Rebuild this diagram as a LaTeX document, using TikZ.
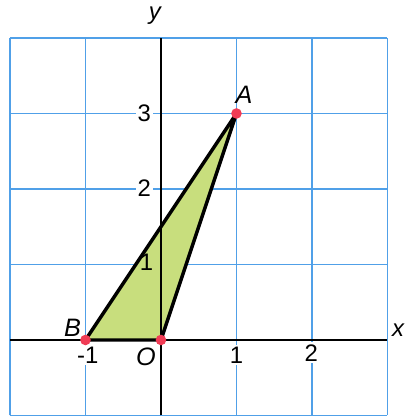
\documentclass[tikz,border=0pt]{standalone}
\usepackage{fontspec}
\setmainfont{Liberation Sans}
\usetikzlibrary{positioning}
\definecolor{GridBlue}{RGB}{80,160,232}
\definecolor{TriFill}{RGB}{200,222,125}
\definecolor{DotRed}{RGB}{240,60,85}
\tikzset{
  every node/.style={font=\fontsize{9}{10}\selectfont},
  gridline/.style={GridBlue, line width=0.7pt},
  axis/.style={black, line width=0.75pt},
  tri/.style={draw=black, fill=TriFill, line width=1.3pt, line join=round},
  dot/.style={circle, fill=DotRed, inner sep=0pt, minimum size=4pt},
  ticklbl/.style={fill=white, inner sep=0.8pt},
  ptlbl/.style={font=\fontsize{9.5}{10}\selectfont\itshape}
}

\begin{document}
\begin{tikzpicture}
\useasboundingbox (-2.132,-1.020) rectangle (3.245,4.503);

% Grid and axes
\draw[gridline] (-2,-1) grid (3,4);
\draw[axis] (-2,0) -- (3,0);
\draw[axis] (0,-1) -- (0,4);
\node (xlbl) at (3.14,0.13) {\itshape x};
\node (ylbl) at (-0.08,4.30) {\itshape y};

% Tick labels
\node[ticklbl] (t3) at (-0.22,3.0) {3};
\node[ticklbl] (t2) at (-0.22,2.01) {2};
\node[ticklbl] (tm1) at (-0.97,-0.2) {-1};
\node[ticklbl] (tx1) at (1.0,-0.2) {1};
\node[ticklbl] (tx2) at (1.99,-0.17) {2};

% Triangle OAB
\coordinate (A) at (1,3);
\coordinate (B) at (-1,0);
\coordinate (O) at (0,0);
\draw[tri] (B) -- (A) -- (O) -- cycle;
\draw[axis] (0,0) -- (0,1.55);
\node (t1) at (-0.19,1.03) {1};

\node[dot] (dA) at (A) {};
\node[dot] (dB) at (B) {};
\node[dot] (dO) at (O) {};
\node[ptlbl] (lA) at (1.1,3.25) {A};
\node[ptlbl] (lB) at (-1.17,0.16) {B};
\node[ptlbl] (lO) at (-0.2,-0.22) {O};

\end{tikzpicture}
\end{document}
